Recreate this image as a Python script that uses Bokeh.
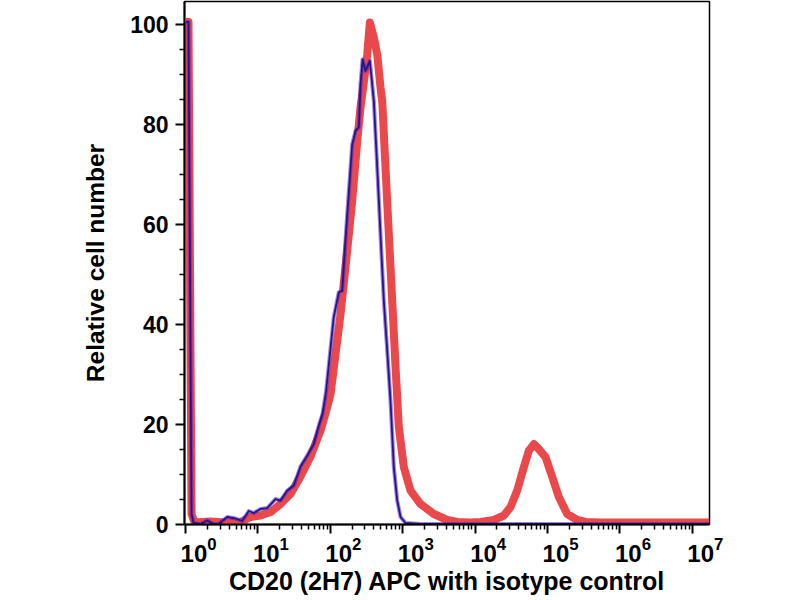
import numpy as np
from bokeh.plotting import figure
from bokeh.models import Range1d, FixedTicker, LogAxis, LogTickFormatter, CustomJSTickFormatter
from bokeh.embed import file_html
from bokeh.resources import INLINE

FONT = "Liberation Sans"

# Isotype control (blue) : x as log10(intensity), y as relative cell number
isotype_log10 = [0.007, 0.041, 0.083, 0.110, 0.207, 0.300, 0.387, 0.456, 0.576, 0.691,
                 0.783, 0.874, 0.943, 1.036, 1.128, 1.243, 1.312, 1.405, 1.496, 1.588,
                 1.681, 1.772, 1.841, 1.892, 1.941, 2.048, 2.117, 2.164, 2.233, 2.302,
                 2.348, 2.394, 2.417, 2.445, 2.486, 2.546, 2.601, 2.648, 2.693, 2.739,
                 2.786, 2.831, 2.877, 2.924, 2.970, 3.039, 3.246, 7.238]
isotype_pct = [100.5, 100.5, 2.0, 0.2, 0.0, 0.7, 0.0, 0.0, 1.4, 1.1,
               0.6, 2.6, 2.2, 3.0, 3.2, 5.0, 4.7, 6.7, 7.7, 11.5,
               13.7, 16.0, 19.7, 22.0, 26.5, 41.4, 46.4, 46.7, 62.0, 76.0,
               78.7, 79.4, 88.0, 93.0, 90.7, 92.7, 84.7, 71.4, 58.0, 44.7,
               34.7, 24.7, 11.4, 4.7, 1.4, 0.2, 0.0, 0.0]

# CD20 (2H7) APC stained (red)
cd20_log10 = [0.007, 0.041, 0.083, 0.124, 0.345, 0.552, 0.760, 0.898, 1.036, 1.174,
              1.312, 1.450, 1.588, 1.727, 1.865, 1.957, 2.003, 2.141, 2.233, 2.302,
              2.372, 2.417, 2.459, 2.510, 2.546, 2.601, 2.648, 2.693, 2.717, 2.762,
              2.808, 2.855, 2.901, 2.946, 3.015, 3.108, 3.246, 3.430, 3.615, 3.753,
              3.936, 4.075, 4.258, 4.396, 4.489, 4.581, 4.673, 4.742, 4.811, 4.880,
              4.972, 5.065, 5.156, 5.272, 5.410, 5.525, 5.732, 7.238]
cd20_pct = [100.5, 100.5, 2.0, 0.3, 0.5, 0.3, 0.4, 1.4, 1.7, 2.4,
            4.0, 6.0, 9.5, 13.5, 18.7, 23.4, 26.0, 42.0, 54.7, 64.7,
            76.7, 83.4, 88.0, 94.0, 100.4, 97.4, 94.0, 87.4, 84.7, 71.4,
            58.0, 44.7, 31.4, 19.4, 11.4, 6.7, 4.0, 2.0, 0.8, 0.4,
            0.3, 0.4, 0.8, 1.7, 3.4, 6.7, 11.4, 14.7, 16.0, 15.0,
            13.4, 9.4, 5.4, 2.0, 0.8, 0.4, 0.3, 0.3]

x_decades = [0, 1, 2, 3, 4, 5, 6, 7]
y_major = [0, 20, 40, 60, 80, 100]
y_minor = [5, 10, 15, 25, 30, 35, 45, 50, 55, 65, 70, 75, 85, 90, 95]

iso_x = 10 ** np.array(isotype_log10)
cd20_x = 10 ** np.array(cd20_log10)

X_LO, X_HI = -0.014, 7.237      # visible decades
LABEL_SHIFT = 0.18              # tick labels sit a little right of their ticks

p = figure(width=800, height=600, x_axis_type="log", output_backend="svg",
           toolbar_location=None,
           x_range=Range1d(10 ** X_LO, 10 ** X_HI), y_range=Range1d(-0.1, 104.6),
           min_border_left=184, min_border_right=91, min_border_top=1,
           min_border_bottom=76)

p.grid.visible = False
p.outline_line_color = "black"
p.outline_line_width = 1.5
p.background_fill_color = "white"
p.border_fill_color = "white"

major_x = [10.0 ** d for d in x_decades]
minor_x = [m * 10.0 ** d for d in x_decades for m in range(2, 10)]
p.xaxis.ticker = FixedTicker(ticks=major_x, minor_ticks=minor_x)
p.yaxis.ticker = FixedTicker(ticks=y_major, minor_ticks=y_minor)

for ax in (p.xaxis[0], p.yaxis[0]):
    ax.axis_line_width = 2
    ax.axis_line_color = "black"
    ax.major_tick_line_width = 2
    ax.major_tick_line_color = "black"
    ax.minor_tick_line_width = 1.5
    ax.minor_tick_line_color = "black"
    ax.major_tick_in = 0
    ax.minor_tick_in = 0
    ax.major_tick_out = 9
    ax.minor_tick_out = 5
    ax.major_label_text_font = FONT
    ax.major_label_text_font_style = "bold"
    ax.major_label_text_color = "black"
    ax.axis_label_text_font = FONT
    ax.axis_label_text_font_style = "bold"
    ax.axis_label_text_color = "black"

# primary x axis: ticks only
p.xaxis[0].formatter = CustomJSTickFormatter(code="return ''")
p.xaxis[0].major_label_standoff = 0

# secondary x axis carrying the decade labels and the title
p.extra_x_ranges = {"lbl": Range1d(10 ** (X_LO - LABEL_SHIFT), 10 ** (X_HI - LABEL_SHIFT))}
lab_ax = LogAxis(x_range_name="lbl", ticker=FixedTicker(ticks=major_x, minor_ticks=[]),
                 formatter=LogTickFormatter(),
                 axis_line_color=None, major_tick_line_color=None,
                 minor_tick_line_color=None, major_tick_out=0, major_tick_in=0,
                 minor_tick_out=0, minor_tick_in=0,
                 major_label_text_font=FONT, major_label_text_font_style="bold",
                 major_label_text_font_size="24px", major_label_text_color="black",
                 major_label_standoff=3,
                 axis_label="CD20 (2H7) APC with isotype control",
                 axis_label_text_font=FONT, axis_label_text_font_style="bold",
                 axis_label_text_font_size="25px", axis_label_text_color="black",
                 axis_label_standoff=2)
p.add_layout(lab_ax, "below")

p.yaxis.axis_label = "Relative cell number"
p.yaxis.axis_label_text_font_size = "24.5px"
p.yaxis.major_label_text_font_size = "23px"
p.yaxis.major_label_standoff = 7
p.yaxis.axis_label_standoff = 18

p.line(cd20_x, cd20_pct, line_color="#e83a3c", line_width=8, line_alpha=0.92,
       line_join="round")
p.line(iso_x, isotype_pct, line_color="#5a20b4", line_width=4, line_alpha=0.55,
       line_join="round")
p.line(iso_x, isotype_pct, line_color="#23158f", line_width=1.8, line_join="round")

open("out.html", "w").write(file_html(p, INLINE))
